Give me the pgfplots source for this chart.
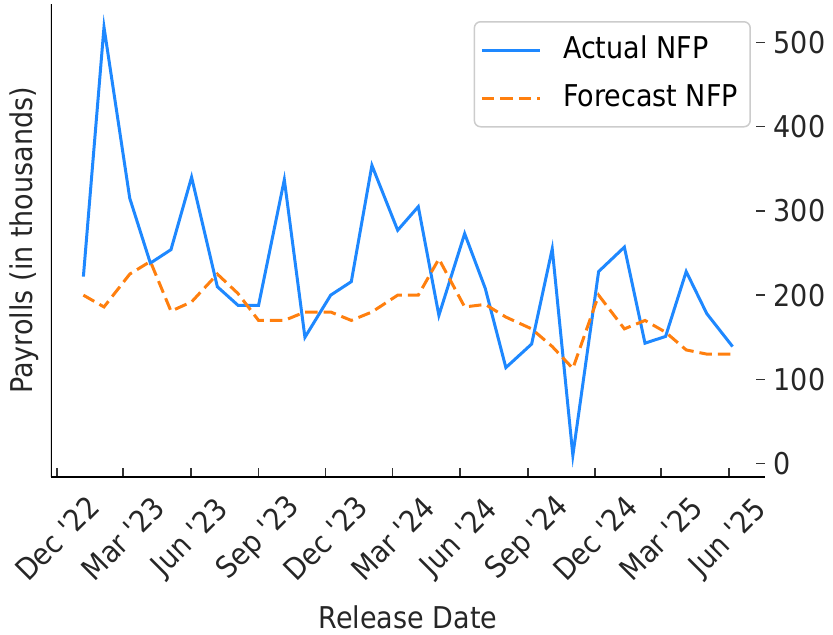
\documentclass[border=0pt]{standalone}
\usepackage{fontspec}
\setmainfont{DejaVu Sans}[FakeStretch=0.9]
\usepackage{pgfplots}
\pgfplotsset{compat=1.18}
\definecolor{nfpblue}{RGB}{30,136,255}
\definecolor{nfporange}{RGB}{255,127,14}
\newcommand{\lbl}{\fontsize{12}{14}\selectfont}
\pgfplotstableread{
day actual forecast
36 222 200
64 518 186
99 315 225
127 238 240
155 254 181
183 340 192
218 210 225
246 188 202
274 188 170
309 337 170
337 150 180
372 200 180
400 216 170
428 354 180
463 277 200
491 305 200
519 176 243
554 273 186
582 208 189
610 114 174
645 142 160
673 255 139
701 10 113
736 228 200
771 257 160
799 143 170
827 151 156
855 228 135
883 178 130
918 139 130
}\nfp
\begin{document}
\begin{tikzpicture}
\begin{axis}[
  scale only axis, width=285.6pt, height=189.1pt,
  at={(0,0)}, anchor=south west,
  xmin=-8, xmax=962, ymin=-15.5, ymax=545.5,
  axis x line=bottom, axis y line=right,
  x axis line style={-, line width=0.8pt, black},
  y axis line style={draw=none},
  xtick={0,90,182,274,365,456,548,640,731,821,913},
  xticklabels={Dec \textquotesingle 22, Mar \textquotesingle 23, Jun \textquotesingle 23, Sep \textquotesingle 23, Dec \textquotesingle 23, Mar \textquotesingle 24, Jun \textquotesingle 24, Sep \textquotesingle 24, Dec \textquotesingle 24, Mar \textquotesingle 25, Jun \textquotesingle 25},
  ytick={0,100,200,300,400,500},
  tick align=inside,
  major tick length=3.5pt,
  every tick/.style={black!80, line width=0.6pt},
  /pgf/number format/assume math mode=true,
  tick label style={font=\lbl, text=black!85},
  xticklabel style={yshift=-24.7pt, rotate=45, anchor=center},
  every axis y label/.style={at={(axis description cs:0,0.5)}, xshift=-10.8pt, rotate=90, anchor=center, font=\lbl, text=black!85},
  every axis x label/.style={at={(axis description cs:0.5,0)}, yshift=-56.1pt, anchor=center, font=\lbl, text=black!85},
  xlabel={Release Date},
  ylabel={Payrolls (in thousands)},
  legend style={at={(rel axis cs:1,1)}, anchor=north east, xshift=-5.6pt, yshift=-6.8pt,
    draw=black!20, line width=0.6pt, rounded corners=2.5pt, font=\lbl,
    inner xsep=2.4pt, inner ysep=3.15pt, row sep=2.7pt, column sep=6.2pt,
    nodes={inner sep=2.5pt, text height=9pt, text depth=2.5pt}},
  legend cell align=left,
  legend image code/.code={\draw[#1] (0pt,0pt) -- (23.2pt,0pt);},
]
\addplot[nfpblue, line width=1.2pt] table[x=day, y=actual] {\nfp};
\addlegendentry{Actual NFP}
\addplot[nfporange, line width=1.2pt, dash pattern=on 5pt off 2.4pt] table[x=day, y=forecast] {\nfp};
\addlegendentry{Forecast NFP}
\draw[black, line width=0.8pt] (rel axis cs:0,0) -- (rel axis cs:0,1);
\end{axis}
\pgfresetboundingbox
\useasboundingbox (-20.4pt,-63.3pt) rectangle (312.8pt,190.7pt);
\end{tikzpicture}
\end{document}
